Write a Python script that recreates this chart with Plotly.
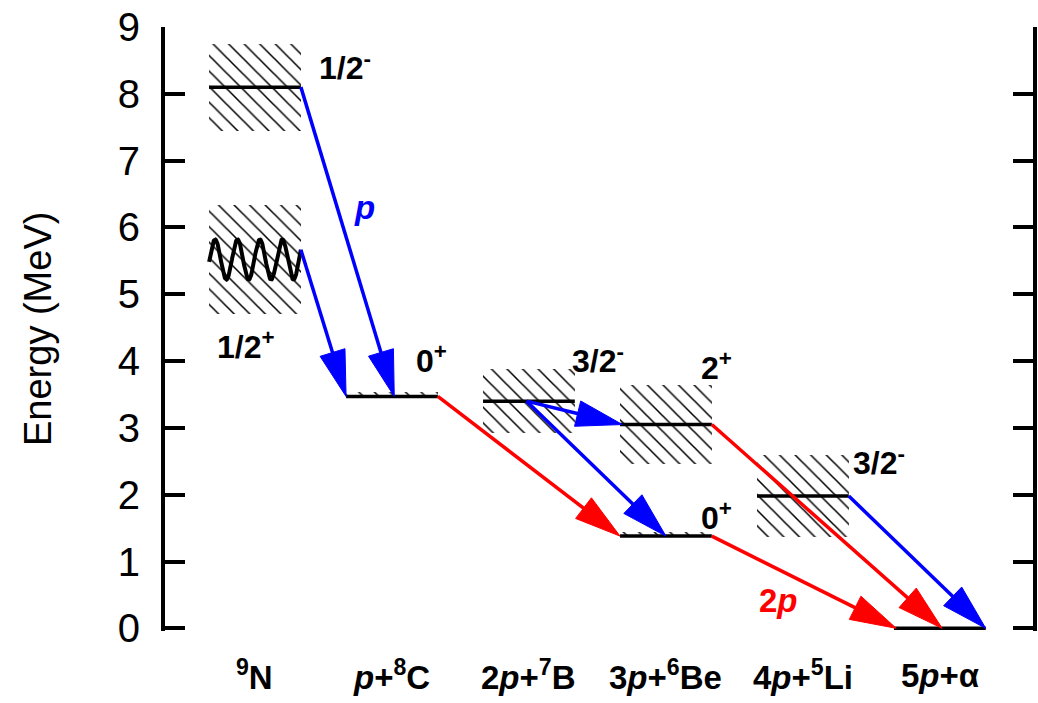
import numpy as np
import plotly.graph_objects as go

# ---------------- data ----------------
CATEGORIES = ["<sup>9</sup>N", "<i>p</i>+<sup>8</sup>C", "2<i>p</i>+<sup>7</sup>B",
              "3<i>p</i>+<sup>6</sup>Be", "4<i>p</i>+<sup>5</sup>Li", "5<i>p</i>+α"]

# levels: column index, energy (MeV), width above / below (MeV), spin label
LEVEL_COL = [0, 0, 1, 2, 3, 3, 4, 5]
LEVEL_E = [8.10, 5.52, 3.47, 3.40, 3.05, 1.38, 1.98, 0.0]
LEVEL_W_UP = [0.65, 0.82, 0.06, 0.48, 0.59, 0.06, 0.61, 0.0]
LEVEL_W_DN = [0.65, 0.82, 0.0, 0.48, 0.59, 0.0, 0.61, 0.0]
LEVEL_LABEL = ["1/2<sup>-</sup>", "1/2<sup>+</sup>", "0<sup>+</sup>", "3/2<sup>-</sup>",
               "2<sup>+</sup>", "0<sup>+</sup>", "3/2<sup>-</sup>", ""]
LEVEL_BROAD = [False, True, False, False, False, False, False, False]

# transitions: from level idx, fraction along from-level, to level idx, fraction along to-level, kind
TR_FROM = [0, 1, 2, 3, 3, 4, 5, 6]
TR_FROM_FRAC = [1.0, 1.0, 1.0, -0.05, -0.05, 1.0, 1.0, 1.0]
TR_TO = [2, 2, 5, 5, 4, 7, 7, 7]
TR_TO_FRAC = [0.05, -1.0, -1.0, 0.0, -0.95, 0.05, -0.95, 1.0]
TR_KIND = ["p", "p", "2p", "p", "p", "2p", "2p", "p"]

Y_TICKS = [0, 1, 2, 3, 4, 5, 6, 7, 8, 9]

# ---------------- styles / geometry ----------------
FONT = "Liberation Sans, Arial, Helvetica, sans-serif"
COLORS = {"p": "#0000ff", "2p": "#ff0000"}
W, H = 1038, 703
ML, MR, MT, MB = 165, 5, 27, 72
X_RANGE = [-0.657, 5.68]
Y_RANGE = [-0.04, 9.0]
HALF = 0.335  # half-length of level line (column units)
PX_X = (W - ML - MR) / (X_RANGE[1] - X_RANGE[0])
PX_Y = (H - MT - MB) / (Y_RANGE[1] - Y_RANGE[0])
HEAD_L, HEAD_HW, LINE_W = 46.0, 13.0, 3.5
WAVE_AMP, WAVE_PERIODS, WAVE_PHASE0 = 0.30, 4.1, -0.12

fig = go.Figure()

# hatched widths
for c, e, wu, wd in zip(LEVEL_COL, LEVEL_E, LEVEL_W_UP, LEVEL_W_DN):
    if wu + wd <= 0:
        continue
    fig.add_trace(go.Bar(
        x=[c], y=[wu + wd], base=[e - wd], width=2 * HALF,
        marker=dict(color="white", line=dict(width=0),
                    pattern=dict(shape="\\", fgcolor="black", bgcolor="white",
                                 fgopacity=1, size=11, solidity=0.14)),
        showlegend=False, hoverinfo="skip"))


def wave_y(e, t):
    return e + WAVE_AMP * np.sin(WAVE_PHASE0 + 2 * np.pi * WAVE_PERIODS * t)


# level lines
for c, e, broad in zip(LEVEL_COL, LEVEL_E, LEVEL_BROAD):
    if broad:
        t = np.linspace(0, 1, 300)
        xs = c - HALF + 2 * HALF * t
        fig.add_trace(go.Scatter(x=xs, y=wave_y(e, t), mode="lines",
                                 line=dict(color="black", width=4),
                                 showlegend=False, hoverinfo="skip"))
    else:
        fig.add_trace(go.Scatter(x=[c - HALF, c + HALF], y=[e, e], mode="lines",
                                 line=dict(color="black", width=3.5),
                                 showlegend=False, hoverinfo="skip"))


def to_px(x, y):
    return (x - X_RANGE[0]) * PX_X, (y - Y_RANGE[0]) * PX_Y


def to_data(px, py):
    return px / PX_X + X_RANGE[0], py / PX_Y + Y_RANGE[0]


# arrows
for fi, ff, ti, tf, kind in zip(TR_FROM, TR_FROM_FRAC, TR_TO, TR_TO_FRAC, TR_KIND):
    x0 = LEVEL_COL[fi] + ff * HALF
    y0 = LEVEL_E[fi]
    x1 = LEVEL_COL[ti] + tf * HALF
    y1 = LEVEL_E[ti]
    if LEVEL_BROAD[fi]:
        y0 = wave_y(LEVEL_E[fi], (ff + 1) / 2)
    p0 = np.array(to_px(x0, y0))
    p1 = np.array(to_px(x1, y1))
    d = p1 - p0
    u = d / np.linalg.norm(d)
    n = np.array([-u[1], u[0]])
    base = p1 - HEAD_L * u
    lend = p1 - (HEAD_L - 6) * u
    col = COLORS[kind]
    lx, ly = zip(to_data(*p0), to_data(*lend))
    fig.add_trace(go.Scatter(x=list(lx), y=list(ly), mode="lines",
                             line=dict(color=col, width=LINE_W),
                             showlegend=False, hoverinfo="skip"))
    tri = [p1, base + HEAD_HW * n, base - HEAD_HW * n, p1]
    tx, ty = zip(*[to_data(*q) for q in tri])
    fig.add_trace(go.Scatter(x=list(tx), y=list(ty), mode="lines", fill="toself",
                             fillcolor=col, line=dict(color=col, width=1),
                             showlegend=False, hoverinfo="skip"))

# level labels (positions: x in column units, y in MeV, anchor)
LABEL_POS = [(0.451, 8.42, "left"), (-0.291, 4.24, "left"), (1.29, 4.03, "center"),
             (2.3, 4.03, "left"), (3.24, 3.93, "left"), (3.24, 1.68, "left"),
             (4.35, 2.5, "left"), None]
for lab, pos in zip(LEVEL_LABEL, LABEL_POS):
    if pos is None or not lab:
        continue
    fig.add_annotation(x=pos[0], y=pos[1], xref="x", yref="y", text="<b>" + lab + "</b>",
                       showarrow=False, xanchor=pos[2], yanchor="middle",
                       font=dict(family=FONT, size=32, color="black"))

# decay-mode labels
fig.add_annotation(x=0.80, y=6.30, text="<b><i>p</i></b>", showarrow=False,
                   font=dict(family=FONT, size=33, color=COLORS["p"]))
fig.add_annotation(x=3.82, y=0.42, text="<b>2<i>p</i></b>", showarrow=False,
                   font=dict(family=FONT, size=33, color=COLORS["2p"]))

# category labels
for i, cat in enumerate(CATEGORIES):
    fig.add_annotation(x=i, y=0, xref="x", yref="paper", yshift=-44, text="<b>" + cat + "</b>",
                       showarrow=False, xanchor="center", yanchor="middle",
                       font=dict(family=FONT, size=33, color="black"))

# y-axis title
fig.add_annotation(x=0, y=0.5, xref="paper", yref="paper", xshift=-127, text="Energy (MeV)",
                   textangle=-90, showarrow=False, xanchor="center", yanchor="middle",
                   font=dict(family=FONT, size=38, color="black"))

fig.update_layout(
    width=W, height=H, margin=dict(l=ML, r=MR, t=MT, b=MB, autoexpand=False),
    paper_bgcolor="white", plot_bgcolor="white", barmode="overlay", bargap=0,
    showlegend=False,
    xaxis=dict(range=X_RANGE, visible=False, fixedrange=True),
    yaxis=dict(range=Y_RANGE, tickvals=Y_TICKS, ticktext=[str(v) for v in Y_TICKS],
               showline=True, linecolor="black", linewidth=4, mirror="ticks",
               ticks="inside", ticklen=20, tickwidth=4, tickcolor="black",
               showgrid=False, zeroline=False, ticklabelstandoff=13,
               tickfont=dict(family=FONT, size=40, color="black")),
)

fig.write_html("out.html")
